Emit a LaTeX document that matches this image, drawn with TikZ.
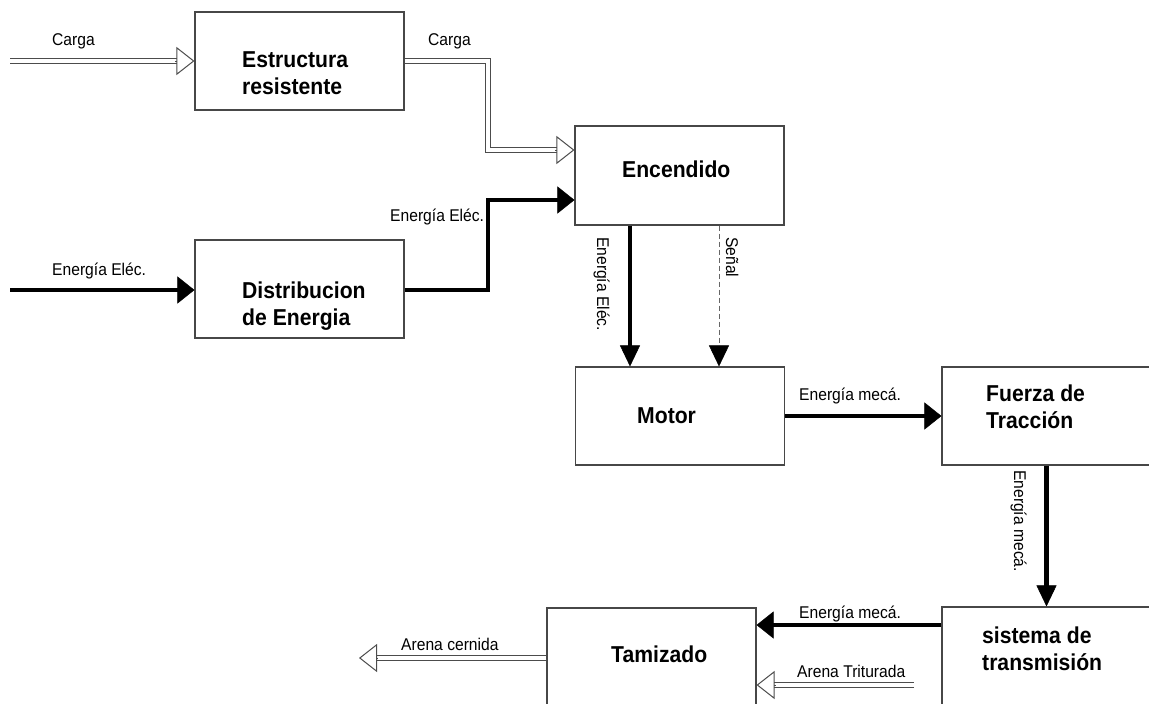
\documentclass[tikz,border=0pt]{standalone}
\usepackage{fontspec}
\setmainfont{Liberation Sans}[FakeStretch=0.92]
\usetikzlibrary{arrows.meta,calc}
\begin{document}
\begin{tikzpicture}[x=1pt,y=-1pt,
  blk/.style={draw=black!72,line width=1.1pt,minimum width=209pt,minimum height=98pt,inner sep=0pt},
  btxt/.style={anchor=base west,inner sep=0pt,align=left,font=\fontsize{23}{27}\selectfont\bfseries},
  lbl/.style={anchor=base west,inner sep=0pt,font=\fontsize{17}{20}\selectfont},
  hshaft/.style={draw=black!70,line width=5.6pt,postaction={draw=white,line width=3.2pt}},
  hhead/.style={draw=black!70,line width=1pt,-{Triangle[open,width=28pt,length=18pt]}},
  tkh/.style={draw=black,line width=4.6pt,-{Triangle[width=27pt,length=17pt,line width=0.5pt]}},
  tkv/.style={draw=black,line width=4.4pt,-{Triangle[width=20pt,length=21pt,line width=0.5pt]}},
  dsh/.style={draw=black!60,line width=0.7pt,dash pattern=on 5pt off 3pt,-{Triangle[width=20pt,length=21pt,color=black,line width=0.5pt]}}
]
\useasboundingbox (0,0) rectangle (1149,704);
\clip (0,0) rectangle (1149,704);

% boxes
\node[blk] (estr) at (299.5,61) {};
\node[blk] (distr) at (299.5,289) {};
\node[blk,minimum height=99pt] (encd) at (679.5,175.5) {};
\node[blk] (motor) at (680,416) {};
\node[blk] (fuer) at (1046.5,416) {};
\node[blk] (sist) at (1046.5,656) {};
\node[blk] (tam) at (651.5,657) {};

% box texts (base = last line baseline)
\node[btxt] (testr) at (242,94) {Estructura\\resistente};
\node[btxt] (tdistr) at (242,325) {Distribucion\\de Energia};
\node[btxt] (tencd) at (622,177) {Encendido};
\node[btxt] (tmotor) at (637,423) {Motor};
\node[btxt] (tfuer) at (986,428) {Fuerza de\\Tracción};
\node[btxt] (tsist) at (982,670) {sistema de\\transmisión};
\node[btxt] (ttam) at (611,662) {Tamizado};

% coordinates
\coordinate (cin) at (10,61);
\coordinate (ein) at (10,290);
\coordinate (cx) at (488,150);
\coordinate (ex) at (488,200);
\coordinate (m1) at (630,0);
\coordinate (m2) at (719,0);
\coordinate (t1) at (0,625);
\coordinate (atin) at (914,685);
\coordinate (acout) at (359,658);

% Carga input
\draw[hshaft] (cin) -- ($(estr.west |- cin)+(-17.5,0)$);
\draw[hhead] ($(estr.west |- cin)+(-19,0)$) -- (estr.west |- cin);
% Carga to Encendido
\draw[hshaft] (estr.east) -| (cx) -- ($(encd.west |- cx)+(-17.5,0)$);
\draw[hhead] ($(encd.west |- cx)+(-19,0)$) -- (encd.west |- cx);
% Energia input
\draw[tkh] (ein) -- (distr.west |- ein);
% Distribucion to Encendido
\draw[tkh] (distr.east |- ein) -| (ex) -- (encd.west |- ex);
% Encendido to Motor
\draw[tkv] (encd.south -| m1) -- (motor.north -| m1);
\draw[dsh] (encd.south -| m2) -- (motor.north -| m2);
% Motor to Fuerza
\draw[tkh] (motor.east) -- (fuer.west);
% Fuerza to sistema
\draw[tkv] (fuer.south) -- (sist.north);
% sistema to Tamizado
\draw[tkh] (sist.west |- t1) -- (tam.east |- t1);
% Arena Triturada
\draw[hshaft] (atin) -- ($(tam.east |- atin)+(17.5,0)$);
\draw[hhead] ($(tam.east |- atin)+(19,0)$) -- (tam.east |- atin);
% Arena cernida
\draw[hshaft] (tam.west |- acout) -- ($(acout)+(17.5,0)$);
\draw[hhead] ($(acout)+(19,0)$) -- (acout);

% labels
\node[lbl] (l1) at (52,45) {Carga};
\node[lbl] (l2) at (428,45) {Carga};
\node[lbl] (l3) at (390,221) {Energía Eléc.};
\node[lbl] (l4) at (52,275) {Energía Eléc.};
\node[lbl,rotate=-90] (l5) at (597,237) {Energía Eléc.};
\node[lbl,rotate=-90] (l6) at (726,237) {Señal};
\node[lbl] (l7) at (799,400) {Energía mecá.};
\node[lbl,rotate=-90] (l8) at (1014,470) {Energía mecá.};
\node[lbl] (l9) at (799,618) {Energía mecá.};
\node[lbl] (l10) at (797,677) {Arena Triturada};
\node[lbl] (l11) at (401,650) {Arena cernida};
\end{tikzpicture}
\end{document}
